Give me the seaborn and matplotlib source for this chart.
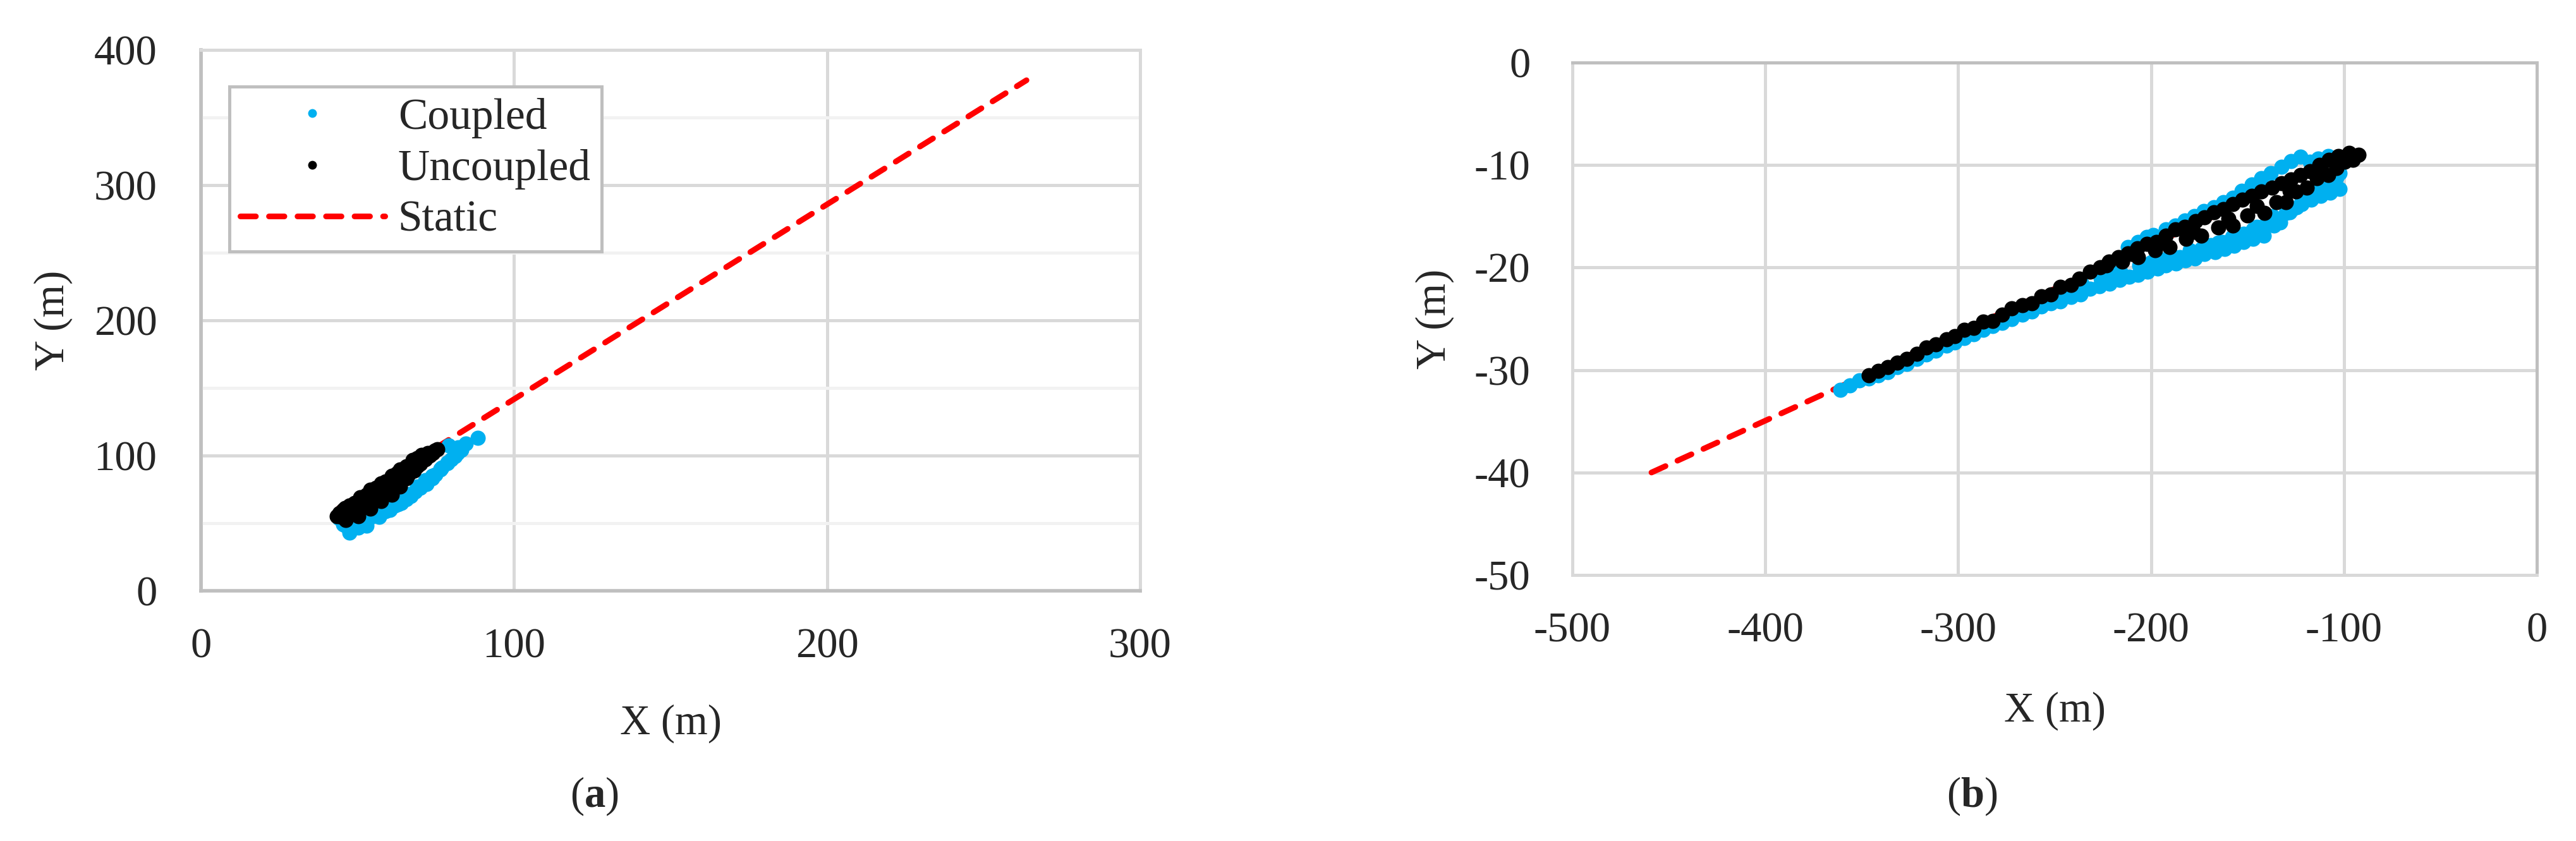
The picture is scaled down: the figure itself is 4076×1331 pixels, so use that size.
import matplotlib
matplotlib.use('Agg')
import matplotlib.pyplot as plt
from matplotlib.lines import Line2D
import seaborn as sns
import pandas as pd

sns.set_theme(style='white')
plt.rcParams['font.family'] = ['Liberation Serif', 'DejaVu Serif']
plt.rcParams['axes.unicode_minus'] = False
plt.rcParams['mathtext.fontset'] = 'custom'
plt.rcParams['mathtext.rm'] = 'Liberation Serif'
plt.rcParams['mathtext.bf'] = 'Liberation Serif:bold'

# ---------- panel (a) ----------
a_coupled_x = [45.5, 49.5, 53.6, 56.9, 60.3, 63.7, 66.4, 69.0, 71.7, 73.8, 76.5, 78.8, 81.2, 83.2,
               44.1, 46.2, 47.5, 50.2, 52.9, 56.9, 60.3, 63.0, 65.7, 68.4, 71.7, 73.8, 76.5, 78.8,
               81.2, 79.1, 82.2, 84.5, 88.4,
               47.0, 49.0, 51.0, 53.0, 55.0, 58.0, 59.0, 62.0, 64.0, 67.0, 70.0, 72.0, 75.0, 77.0,
               80.0, 82.0]
a_coupled_y = [49.1, 50.6, 53.7, 56.9, 61.5, 66.2, 71.6, 77.1, 81.8, 84.9, 90.3, 95.0, 99.7, 104.3,
               53.7, 48.3, 42.8, 46.7, 48.3, 54.5, 60.0, 63.9, 67.8, 73.2, 80.2, 83.3, 89.6, 94.2,
               100.5, 107.5, 105.9, 109.0, 112.9,
               50.0, 48.0, 51.0, 51.0, 55.0, 58.0, 59.0, 63.0, 65.0, 70.0, 76.0, 79.0, 86.0, 91.0,
               97.0, 102.0]

a_uncoupled_x = [44.2, 47.5, 50.9, 54.2, 57.6, 61.0, 63.7, 65.7, 67.7, 70.4, 72.4, 74.8,
                 44.8, 48.9, 52.2, 55.6, 59.0, 61.6, 64.3, 66.4, 69.0, 71.7,
                 46.2, 50.2, 54.2, 57.6, 61.0, 63.7, 65.7,
                 43.5, 45.5, 46.5,
                 45.0, 46.0, 48.0, 49.0, 51.0, 52.0, 53.0, 55.0, 56.0, 58.0, 59.0, 60.0, 62.0,
                 62.5, 64.0, 66.0, 67.0, 68.0, 69.0, 70.0, 73.0, 74.0, 75.5]
a_uncoupled_y = [57.6, 63.1, 69.3, 74.8, 79.4, 84.9, 89.6, 91.9, 96.6, 100.5, 102.0, 103.9,
                 54.5, 58.4, 62.3, 67.8, 72.4, 77.1, 83.3, 86.4, 91.9, 97.3,
                 52.2, 55.3, 60.7, 66.2, 70.9, 77.1, 83.3,
                 55.3, 60.0, 57.0,
                 58.0, 61.0, 60.0, 65.0, 63.0, 67.0, 71.0, 70.0, 76.0, 75.0, 81.0, 76.0, 80.0,
                 87.0, 86.0, 88.0, 93.0, 89.0, 98.0, 94.0, 100.0, 102.0, 104.5]

a_static_x = [44, 263.7]
a_static_y = [61, 377.6]

a_xticks = [0, 100, 200, 300]
a_yticks = [0, 100, 200, 300, 400]
a_yminor = [50, 150, 250, 350]

# ---------- panel (b) ----------
b_coupled_x = [-361.2, -356.3, -351.3, -346.4, -341.5, -336.6, -331.7, -326.8, -321.3, -316.4,
               -311.6, -306.1, -301.7, -296.8, -291.8, -286.9, -282.0, -277.1, -272.2, -266.7,
               -261.8, -256.9, -252.0, -247.1,
               -247.1, -241.6, -236.7, -231.7, -226.8, -221.4, -216.4, -211.5, -206.6, -201.7,
               -196.6, -192.2, -187.2, -182.3, -177.4, -172.2, -166.8, -161.8, -156.9, -152.0,
               -147.1, -141.7, -136.2, -132.9, -126.9, -122.0, -117.0, -112.1, -107.2, -102.3,
               -185.0, -174.1, -163.2, -152.0, -141.1, -135.5, -130.1, -124.5, -119.2, -113.7,
               -108.3, -103.9, -102.3,
               -212.1, -206.6, -202.3, -198.9, -192.4, -187.5, -182.6, -177.7, -172.8, -167.3,
               -162.4, -157.5, -153.1, -147.7, -142.8, -137.9, -132.4, -127.4, -122.5, -117.6,
               -113.3, -108.3,
               -236.0, -226.0, -216.0, -206.0, -196.0, -190.0, -180.0, -169.0, -158.0, -147.0,
               -137.0, -128.0, -122.0, -116.0, -110.0, -105.0,
               -220.0, -200.0, -180.0, -165.0, -145.0]
b_coupled_y = [-31.96, -31.5, -31.0, -30.8, -30.5, -30.2, -29.7, -29.4, -28.9, -28.5,
               -28.1, -27.6, -27.3, -26.9, -26.5, -26.1, -25.7, -25.4, -25.0, -24.6,
               -24.3, -23.8, -23.5, -23.0,
               -23.3, -22.9, -22.6, -22.1, -21.8, -21.6, -21.2, -20.9, -20.7, -20.4,
               -20.1, -19.8, -19.6, -19.3, -19.1, -18.7, -18.5, -18.2, -17.9, -17.5,
               -17.2, -16.9, -15.9, -15.6, -14.3, -13.8, -13.4, -13.0, -12.7, -12.3,
               -19.0, -18.2, -17.5, -16.7, -15.9, -15.3, -14.7, -14.1, -13.2, -12.4,
               -11.8, -11.2, -10.8,
               -18.0, -17.5, -17.0, -16.8, -16.3, -15.9, -15.4, -15.0, -14.5, -14.1,
               -13.6, -13.2, -12.5, -11.9, -11.3, -10.8, -10.2, -9.6, -9.2, -9.7,
               -9.4, -9.1,
               -21.6, -21.0, -20.4, -19.8, -19.2, -18.7, -18.3, -17.8, -17.0, -16.3,
               -15.0, -14.6, -13.2, -12.6, -12.0, -11.5,
               -20.5, -19.5, -18.6, -17.6, -16.0]

b_uncoupled_x = [-346.4, -341.5, -336.6, -331.7, -326.8, -321.3, -316.4, -311.6, -306.1, -301.7,
                 -296.8, -291.8, -286.9, -282.0, -277.1, -272.2, -266.7, -261.8, -256.9, -252.0,
                 -247.1, -241.6, -237.2, -231.7, -226.3,
                 -221.9, -217.0, -212.1, -207.2, -202.3, -197.4, -192.4, -187.5, -182.6, -177.1,
                 -172.2, -167.3, -162.4, -157.5, -152.6, -147.7, -142.8, -137.3, -132.4, -127.4,
                 -122.5, -117.6, -112.7, -107.8, -102.9, -97.4, -92.5, -99.6, -95.2,
                 -223.0, -206.6, -190.5, -173.9, -157.5, -141.1, -130.1, -119.2, -108.3,
                 -215.0, -198.0, -182.0, -165.0, -150.0, -135.0, -125.0, -114.0, -104.0,
                 -210.0, -194.0, -178.0, -160.0, -145.0, -128.0, -111.0]
b_uncoupled_y = [-30.5, -30.1, -29.7, -29.3, -28.9, -28.4, -27.8, -27.5, -27.0, -26.7,
                 -26.1, -25.9, -25.3, -25.2, -24.6, -24.0, -23.7, -23.5, -22.8, -22.6,
                 -21.9, -21.7, -21.1, -20.4, -20.0,
                 -19.4, -19.0, -18.6, -18.1, -17.7, -17.5, -16.9, -16.3, -16.0, -15.5,
                 -15.1, -14.6, -14.3, -13.8, -13.4, -13.0, -12.6, -12.2, -11.8, -11.4,
                 -11.0, -10.6, -10.0, -9.5, -9.1, -8.8, -9.0, -9.7, -9.5,
                 -19.8, -19.0, -18.0, -16.9, -15.9, -14.7, -13.6, -12.2, -11.0,
                 -19.4, -18.3, -17.2, -16.1, -14.9, -13.6, -12.6, -11.3, -10.3,
                 -18.7, -17.6, -16.5, -15.2, -14.0, -12.5, -10.7]

b_static_x = [-459, -95]
b_static_y = [-40.0, -8.8]

b_xticks = [-500, -400, -300, -200, -100, 0]
b_yticks = [-50, -40, -30, -20, -10, 0]

BLUE = '#00B0F0'
RED = '#FF0000'
FS = 48
MS = 300

fig = plt.figure(figsize=(40.76, 13.31), dpi=100)
ax_a = fig.add_axes([0.078, 0.2975, 0.3646, 0.6431])
ax_b = fig.add_axes([0.6104, 0.3163, 0.3744, 0.6093])


def draw(ax, sx, sy, cx, cy, ux, uy):
    ax.plot(sx, sy, color=RED, lw=6.5, linestyle=(0, (2.7, 2.3)),
            dash_capstyle='round', zorder=2)
    df_c = pd.DataFrame({'x': cx, 'y': cy})
    df_u = pd.DataFrame({'x': ux, 'y': uy})
    sns.scatterplot(data=df_c, x='x', y='y', ax=ax, color=BLUE, s=MS,
                    linewidth=0, zorder=3)
    sns.scatterplot(data=df_u, x='x', y='y', ax=ax, color='black', s=MS,
                    linewidth=0, zorder=4)
    ax.set_xlabel('')
    ax.set_ylabel('')


draw(ax_a, a_static_x, a_static_y, a_coupled_x, a_coupled_y, a_uncoupled_x, a_uncoupled_y)
draw(ax_b, b_static_x, b_static_y, b_coupled_x, b_coupled_y, b_uncoupled_x, b_uncoupled_y)

# panel (a) axes styling
ax_a.set_xlim(0, 300)
ax_a.set_ylim(0, 400)
ax_a.set_xticks(a_xticks)
ax_a.set_yticks(a_yticks)
ax_a.set_yticks(a_yminor, minor=True)
ax_a.grid(True, which='major', color='#d9d9d9', lw=3.6, zorder=0)
ax_a.grid(True, which='minor', axis='y', color='#f2f2f2', lw=3.6, zorder=0)
for side in ['left', 'bottom']:
    ax_a.spines[side].set_color('#bfbfbf')
    ax_a.spines[side].set_linewidth(4)
for side in ['top', 'right']:
    ax_a.spines[side].set_color('#d9d9d9')
    ax_a.spines[side].set_linewidth(3.6)
ax_a.tick_params(axis='y', which='both', length=0, labelsize=FS, pad=50)
ax_a.tick_params(axis='x', which='both', length=0, labelsize=FS, pad=42)
ax_a.set_xlabel('X (m)', fontsize=FS)
ax_a.xaxis.set_label_coords(0.5, -0.246)
ax_a.xaxis.label.set_va('center')
ax_a.set_ylabel('Y (m)', fontsize=FS)
ax_a.yaxis.set_label_coords(-0.157, 0.5)
ax_a.yaxis.label.set_va('center')

handles = [
    Line2D([], [], marker='o', linestyle='none', color=BLUE, markersize=10, markeredgewidth=0),
    Line2D([], [], marker='o', linestyle='none', color='black', markersize=10, markeredgewidth=0),
    Line2D([], [], color=RED, lw=6.5, linestyle=(0, (2.7, 2.3)), dash_capstyle='round'),
]
leg = ax_a.legend(handles, ['Coupled', 'Uncoupled', 'Static'], loc='upper left',
                  bbox_to_anchor=(0.03, 0.932), borderaxespad=0, fontsize=50,
                  frameon=True, fancybox=False, framealpha=1, edgecolor='#bfbfbf',
                  handlelength=3.3, handletextpad=0.3, labelspacing=0.25,
                  borderpad=0.25)
leg.get_frame().set_linewidth(3.6)

# panel (b) axes styling
ax_b.set_xlim(-500, 0)
ax_b.set_ylim(-50, 0)
ax_b.set_xticks(b_xticks)
ax_b.set_yticks(b_yticks)
ax_b.grid(True, which='major', color='#d9d9d9', lw=3.6, zorder=0)
for side in ['top', 'right']:
    ax_b.spines[side].set_color('#bfbfbf')
    ax_b.spines[side].set_linewidth(3.6)
for side in ['left', 'bottom']:
    ax_b.spines[side].set_color('#d9d9d9')
    ax_b.spines[side].set_linewidth(3.6)
ax_b.tick_params(axis='y', length=0, labelsize=FS, pad=48)
ax_b.tick_params(axis='x', length=0, labelsize=FS, pad=42)
ax_b.set_xlabel('X (m)', fontsize=FS)
ax_b.xaxis.set_label_coords(0.5, -0.265)
ax_b.xaxis.label.set_va('center')
ax_b.set_ylabel('Y (m)', fontsize=FS)
ax_b.yaxis.set_label_coords(-0.143, 0.5)
ax_b.yaxis.label.set_va('center')

fig.text(0.2306, 0.0533, r'($\mathbf{a}$)', fontsize=FS, ha='center', va='center')
fig.text(0.7655, 0.0533, r'($\mathbf{b}$)', fontsize=FS, ha='center', va='center')

fig.savefig('out.png', dpi=100, facecolor='white')
